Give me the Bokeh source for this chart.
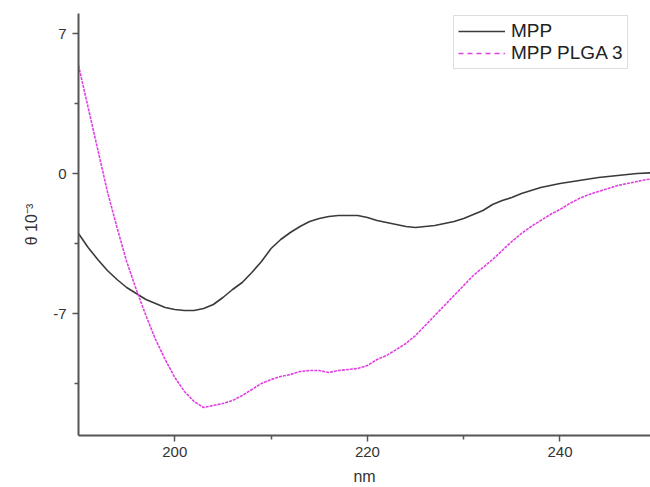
from bokeh.plotting import figure
from bokeh.models import FixedTicker, Legend, LegendItem, Range1d
from bokeh.embed import file_html
from bokeh.resources import INLINE

# wavelength (nm) and ellipticity (theta x 10^-3)
mpp_x = [190, 191, 192, 193, 194, 195, 196, 197, 198, 199, 200, 201, 202, 203, 204, 205,
         206, 207, 208, 209, 210, 211, 212, 213, 214, 215, 216, 217, 218, 219, 220, 221,
         222, 223, 224, 225, 226, 227, 228, 229, 230, 231, 232, 233, 234, 235, 236, 237,
         238, 239, 240, 242, 244, 246, 248, 250]
mpp_y = [-3.0, -3.7, -4.3, -4.85, -5.3, -5.7, -6.0, -6.3, -6.5, -6.7, -6.8, -6.85, -6.85,
         -6.75, -6.55, -6.2, -5.8, -5.45, -4.95, -4.4, -3.75, -3.3, -2.95, -2.65, -2.4,
         -2.25, -2.15, -2.1, -2.1, -2.1, -2.2, -2.35, -2.45, -2.55, -2.65, -2.7, -2.65,
         -2.6, -2.5, -2.4, -2.25, -2.05, -1.85, -1.55, -1.35, -1.2, -1.0, -0.85, -0.7,
         -0.6, -0.5, -0.35, -0.2, -0.1, 0.0, 0.05]

plga_x = [190, 191, 192, 193, 194, 195, 196, 197, 198, 199, 200, 201, 202, 203, 204, 205,
          206, 207, 208, 209, 210, 211, 212, 213, 214, 215, 216, 217, 218, 219, 220, 221,
          222, 223, 224, 225, 226, 227, 228, 229, 230, 231, 232, 233, 234, 235, 236, 237,
          238, 239, 240, 241, 242, 243, 244, 245, 246, 247, 248, 249, 250]
plga_y = [5.4, 3.3, 1.2, -0.9, -2.7, -4.4, -5.8, -7.1, -8.3, -9.3, -10.2, -10.9, -11.4,
          -11.7, -11.6, -11.5, -11.35, -11.1, -10.8, -10.5, -10.3, -10.15, -10.05, -9.9,
          -9.85, -9.85, -9.95, -9.85, -9.8, -9.75, -9.6, -9.3, -9.1, -8.8, -8.5, -8.1,
          -7.6, -7.1, -6.6, -6.1, -5.6, -5.1, -4.7, -4.3, -3.85, -3.4, -3.0, -2.65, -2.35,
          -2.05, -1.8, -1.5, -1.25, -1.05, -0.9, -0.75, -0.6, -0.5, -0.4, -0.3, -0.25]

x_ticks = [200, 220, 240]
x_minor = [210, 230]
y_ticks = [-7, 0, 7]
y_minor = [-10.5, -3.5, 3.5]
y_tick_labels = {-7: "-7", 0: "0", 7: "7"}

FONT = "Liberation Sans"
MAGENTA = "#e040e0"

p = figure(width=650, height=487, output_backend="svg", toolbar_location=None,
           x_range=Range1d(190, 249.4), y_range=Range1d(-13.1, 8.0),
           min_border_left=78, min_border_right=0, min_border_top=13, min_border_bottom=52)
p.outline_line_color = None
p.grid.visible = False
p.background_fill_color = "white"
p.border_fill_color = "white"

r1 = p.line(mpp_x, mpp_y, line_color="#3a3a3a", line_width=1.6)
r2 = p.line(plga_x, plga_y, line_color=MAGENTA, line_width=1.6, line_dash="3 1")
# legend swatch for the dashed series (a single undrawable point)
r2_key = p.line([float("nan")], [float("nan")], line_color=MAGENTA, line_width=1.6,
                line_dash="5 4")

for ax in (p.xaxis[0], p.yaxis[0]):
    ax.axis_line_color = "#555555"
    ax.axis_line_width = 2
    ax.major_tick_line_color = "#555555"
    ax.minor_tick_line_color = "#555555"
    ax.major_tick_line_width = 1.5
    ax.minor_tick_line_width = 1.5
    ax.major_tick_in = 0
    ax.major_tick_out = 6
    ax.minor_tick_in = 0
    ax.minor_tick_out = 4
    ax.major_label_text_font = FONT
    ax.major_label_text_font_size = "15px"
    ax.major_label_text_color = "#333333"
    ax.axis_label_text_font = FONT
    ax.axis_label_text_font_style = "normal"
    ax.axis_label_text_color = "#333333"

p.xaxis[0].ticker = FixedTicker(ticks=x_ticks, minor_ticks=x_minor)
p.yaxis[0].ticker = FixedTicker(ticks=y_ticks, minor_ticks=y_minor)
p.yaxis[0].major_label_overrides = y_tick_labels
p.xaxis[0].axis_label = "nm"
p.xaxis[0].axis_label_text_font_size = "16px"
p.xaxis[0].axis_label_standoff = 8
p.yaxis[0].axis_label = "θ 10⁻³"
p.yaxis[0].axis_label_text_font_size = "16px"
p.yaxis[0].axis_label_standoff = 10
p.yaxis[0].major_label_standoff = 6

legend = Legend(items=[LegendItem(label="MPP", renderers=[r1]),
                       LegendItem(label="MPP PLGA 3", renderers=[r2_key])],
                location=(375, 366))
legend.label_text_font = FONT
legend.label_text_font_size = "19px"
legend.label_text_color = "#222222"
legend.glyph_width = 47
legend.glyph_height = 22
legend.label_height = 22
legend.label_standoff = 6
legend.spacing = 0
legend.padding = 4
legend.margin = 0
legend.border_line_color = "#bbbbbb"
legend.border_line_width = 1.5
legend.background_fill_alpha = 1.0
p.add_layout(legend)

open("out.html", "w").write(file_html(p, INLINE))
